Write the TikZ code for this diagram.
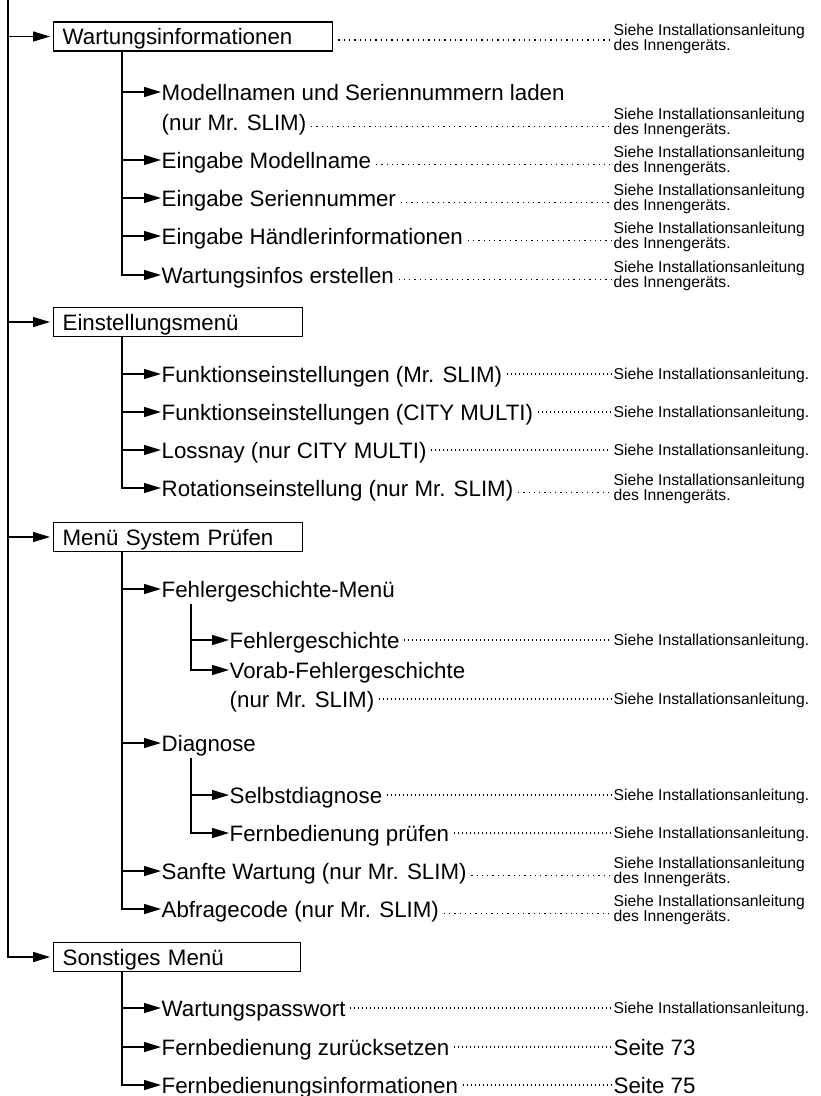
\documentclass[tikz,border=0pt]{standalone}
\usepackage{fontspec}
\setmainfont{Liberation Sans}
\usetikzlibrary{arrows.meta}

\begin{document}
\begin{tikzpicture}[x=1pt, y=-1pt, line width=1.4pt,
    pfeil/.style={-{Triangle[length=17pt,width=10pt]}},
    menubox/.style={draw, line width=1.3pt, anchor=west, inner xsep=9pt, inner ysep=0pt,
        minimum height=29pt, text width=#1, align=left, text height=16pt, text depth=0pt, font=\bigfont},
    item/.style={anchor=west, inner sep=0pt, text height=16pt, text depth=0pt, font=\bigfont},
    ref/.style={anchor=west, inner sep=0pt, align=left, font=\smallfont},
    refone/.style={ref, text height=11.2pt, text depth=0pt},
    leader/.style={line width=1.2pt, dash pattern=on 1.2pt off 2.8pt, shorten <=4pt, shorten >=2pt},
    wideleader/.style={leader, dash pattern=on 1.3pt off 4pt}]

    \def\bigfont{\fontsize{22.3}{30}\selectfont}
    \def\smallfont{\fontsize{15.7}{15}\selectfont}
    \useasboundingbox (0,0) rectangle (821,1096);

    %draw boxes:
    \node[menubox=261pt] (wart) at (53,36.5) {Wartungsinformationen};
    \node[menubox=231pt] (einst) at (53,322) {Einstellungsmenü};
    \node[menubox=231pt] (sys) at (53,537) {Menü System Prüfen};
    \node[menubox=229pt] (sonst) at (53,957) {Sonstiges Menü};

    %Wartungsinformationen:
    \node[item] (modell) at (161,92) {Modellnamen und Seriennummern laden};
    \node[item] (modellb) at (161,122) {(nur Mr. SLIM)};
    \node[item] (mname) at (161,160) {Eingabe Modellname};
    \node[item] (snr) at (161,198) {Eingabe Seriennummer};
    \node[item] (hdl) at (161,236) {Eingabe Händlerinformationen};
    \node[item] (winfo) at (161,275) {Wartungsinfos erstellen};

    %Einstellungsmenu:
    \node[item] (fa) at (161,374) {Funktionseinstellungen (Mr. SLIM)};
    \node[item] (fb) at (161,412) {Funktionseinstellungen (CITY MULTI)};
    \node[item] (loss) at (161,450) {Lossnay (nur CITY MULTI)};
    \node[item] (rot) at (161,488) {Rotationseinstellung (nur Mr. SLIM)};

    %System pruefen:
    \node[item] (fmenu) at (161,589) {Fehlergeschichte-Menü};
    \node[item] (fg) at (229,640) {Fehlergeschichte};
    \node[item] (vorab) at (229,670) {Vorab-Fehlergeschichte};
    \node[item] (vorabb) at (229,699) {(nur Mr. SLIM)};
    \node[item] (diag) at (161,743) {Diagnose};
    \node[item] (selbst) at (229,795) {Selbstdiagnose};
    \node[item] (fbp) at (229,833) {Fernbedienung prüfen};
    \node[item] (sanft) at (161,871) {Sanfte Wartung (nur Mr. SLIM)};
    \node[item] (abfr) at (161,909) {Abfragecode (nur Mr. SLIM)};

    %Sonstiges:
    \node[item] (wpw) at (161,1008) {Wartungspasswort};
    \node[item] (reset) at (161,1047) {Fernbedienung zurücksetzen};
    \node[item] (finfo) at (161,1085) {Fernbedienungsinformationen};

    %draw tree lines:
    \coordinate (trunk) at (8,0);
    \draw[pfeil, shorten >=3pt] (trunk) |- (sonst.west);
    \foreach \n in {wart, einst, sys}
        \draw[pfeil, shorten >=3pt] (trunk |- \n.west) -- (\n.west);

    \coordinate (wartline) at ([xshift=69pt]wart.south west);
    \draw[pfeil] (wartline) |- (winfo.west);
    \foreach \n in {modell, mname, snr, hdl}
        \draw[pfeil] (wartline |- \n.west) -- (\n.west);

    \coordinate (einstline) at ([xshift=69pt]einst.south west);
    \draw[pfeil] (einstline) |- (rot.west);
    \foreach \n in {fa, fb, loss}
        \draw[pfeil] (einstline |- \n.west) -- (\n.west);

    \coordinate (sysline) at ([xshift=69pt]sys.south west);
    \draw[pfeil] (sysline) |- (abfr.west);
    \foreach \n in {fmenu, diag, sanft}
        \draw[pfeil] (sysline |- \n.west) -- (\n.west);

    \coordinate (fehlerline) at ([xshift=30pt,yshift=-6pt]fmenu.south west);
    \draw[pfeil] (fehlerline) |- (vorab.west);
    \draw[pfeil] (fehlerline |- fg.west) -- (fg.west);

    \coordinate (diagline) at ([xshift=30pt,yshift=-6pt]diag.south west);
    \draw[pfeil] (diagline) |- (fbp.west);
    \draw[pfeil] (diagline |- selbst.west) -- (selbst.west);

    \coordinate (sonstline) at ([xshift=69pt]sonst.south west);
    \draw[pfeil] (sonstline) |- (finfo.west);
    \foreach \n in {wpw, reset}
        \draw[pfeil] (sonstline |- \n.west) -- (\n.west);

    %references right:
    \coordinate (refcol) at (613,0);
    \node[ref] (refwart) at (613,39) {Siehe Installationsanleitung\\des Innengeräts.};
    \draw[wideleader, shorten <=5pt] ([yshift=-3.5pt]wart.east) -- ([yshift=-1pt]refwart.west);

    \foreach \n/\y in {modellb/122, mname/160, snr/198, hdl/236, winfo/275, rot/488, sanft/871, abfr/909} {
        \node[ref] (ref\n) at (613,\y+1) {Siehe Installationsanleitung\\des Innengeräts.};
        \draw[wideleader] ([yshift=-4.5pt]\n.east) -- ([yshift=-3.5pt]ref\n.west);
    }

    \foreach \n in {fa, fb, loss, fg, vorabb, selbst, fbp, wpw} {
        \node[refone] (ref\n) at (\n.east -| refcol) {Siehe Installationsanleitung.};
        \draw[leader] (\n.east) -- (ref\n.west);
    }

    \node[item] (seite73) at (reset.east -| refcol) {Seite 73};
    \node[item] (seite75) at (finfo.east -| refcol) {Seite 75};
    \draw[leader] (reset.east) -- (seite73.west);
    \draw[leader] (finfo.east) -- (seite75.west);

\end{tikzpicture}
\end{document}
